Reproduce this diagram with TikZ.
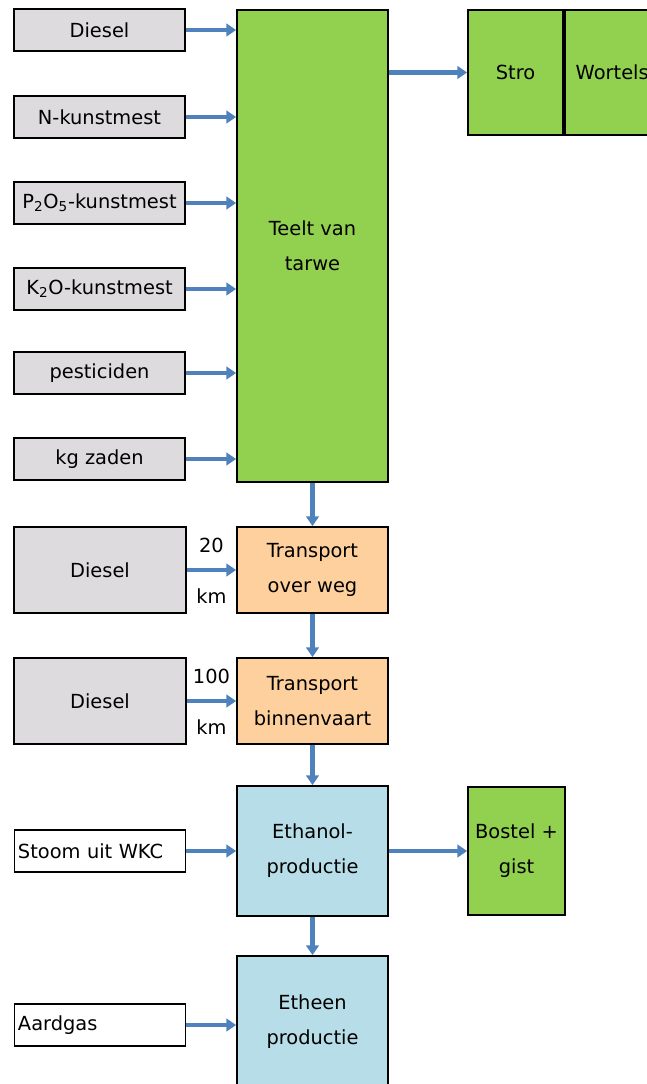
\documentclass[tikz,border=0pt]{standalone}
\usepackage{fontspec}
\setmainfont{DejaVu Sans}
\usetikzlibrary{positioning,arrows.meta}
\definecolor{flowblue}{HTML}{4F81BD}
\definecolor{inputgrey}{HTML}{DDDBDE}
\definecolor{cropgreen}{HTML}{92D050}
\definecolor{transorange}{HTML}{FDD09E}
\definecolor{procblue}{HTML}{B7DEE8}

\begin{document}
\begin{tikzpicture}[
    x=0.025cm, y=-0.025cm,
    >={Triangle[length=7pt,width=9pt]},
    every node/.style={font=\fontsize{13.8}{25}\selectfont},
    box/.style={
        draw=black,
        line width=1.2pt,
        align=center,
        inner sep=0pt,
    },
    inputbox/.style={
        box,
        fill=inputgrey,
        minimum width=4.275cm,
        minimum height=1.05cm,
    },
    dieselbox/.style={
        box,
        fill=inputgrey,
        minimum width=4.3cm,
        minimum height=2.15cm,
    },
    utilbox/.style={
        box,
        fill=white,
        align=left,
        text width=4.1cm,
        inner xsep=0.09cm,
        minimum height=1.05cm,
    },
    process/.style={
        box,
        fill=#1,
        minimum width=3.775cm,
    },
    product/.style={
        box,
        fill=cropgreen,
    },
    flow/.style={->,line width=3.4pt,color=flowblue},
    dist/.style={font=\fontsize{13.8}{15}\selectfont,text=black},
]

\useasboundingbox (0,0) rectangle (646,1084);

% Teelt
\node[process=cropgreen,minimum height=11.8cm] (teelt) at (312.5,246) {Teelt van\\tarwe};

% Inputs teelt
\node[inputbox] (diesel) at (99.5,30) {Diesel};
\node[inputbox] (nmest) at (99.5,117) {N-kunstmest};
\node[inputbox] (pmest) at (99.5,203) {P\textsubscript{2}O\textsubscript{5}-kunstmest};
\node[inputbox] (kmest) at (99.5,289) {K\textsubscript{2}O-kunstmest};
\node[inputbox] (pest) at (99.5,373) {pesticiden};
\node[inputbox] (zaden) at (99.5,459) {kg zaden};

\foreach \src in {diesel,nmest,pmest,kmest,pest,zaden}
    \draw[flow] (\src) -- (\src -| teelt.west);

% Bijproducten teelt
\node[product,minimum width=2.375cm,minimum height=3.125cm] (stro) at (515.5,72.5) {Stro};
\node[product,minimum width=2.375cm,minimum height=3.125cm,right=0pt of stro] (wortels) {Wortels};

\draw[flow] (stro.west -| teelt.east) -- (stro);

% Transport
\node[process=transorange,minimum height=2.15cm] (weg) at (312.5,570) {Transport\\over weg};
\node[dieselbox] (dieselweg) at (100,570) {Diesel};
\draw[flow] (teelt) -- (weg);
\draw[flow] (dieselweg) -- node[dist,above=7pt] {20} node[dist,below=8pt] {km} (weg);

\node[process=transorange,minimum height=2.15cm] (vaart) at (312.5,701) {Transport\\binnenvaart};
\node[dieselbox] (dieselvaart) at (100,701) {Diesel};
\draw[flow] (weg) -- (vaart);
\draw[flow] (dieselvaart) -- node[dist,above=7pt] {100} node[dist,below=8pt] {km} (vaart);

% Ethanol
\node[process=procblue,minimum height=3.25cm] (ethanol) at (312.5,851) {Ethanol-\\productie};
\node[utilbox] (stoom) at (100,851) {Stoom uit WKC};
\node[product,minimum width=2.425cm,minimum height=3.2cm] (bostel) at (516.5,851) {Bostel +\\gist};
\draw[flow] (vaart) -- (ethanol);
\draw[flow] (stoom) -- (ethanol);
\draw[flow] (ethanol) -- (bostel);

% Etheen
\node[process=procblue,minimum height=3.3cm] (etheen) at (312.5,1022) {Etheen\\productie};
\node[utilbox] (aardgas) at (100,1025) {Aardgas};
\draw[flow] (ethanol) -- (etheen);
\draw[flow] (aardgas) -- (aardgas -| etheen.west);

\end{tikzpicture}
\end{document}
